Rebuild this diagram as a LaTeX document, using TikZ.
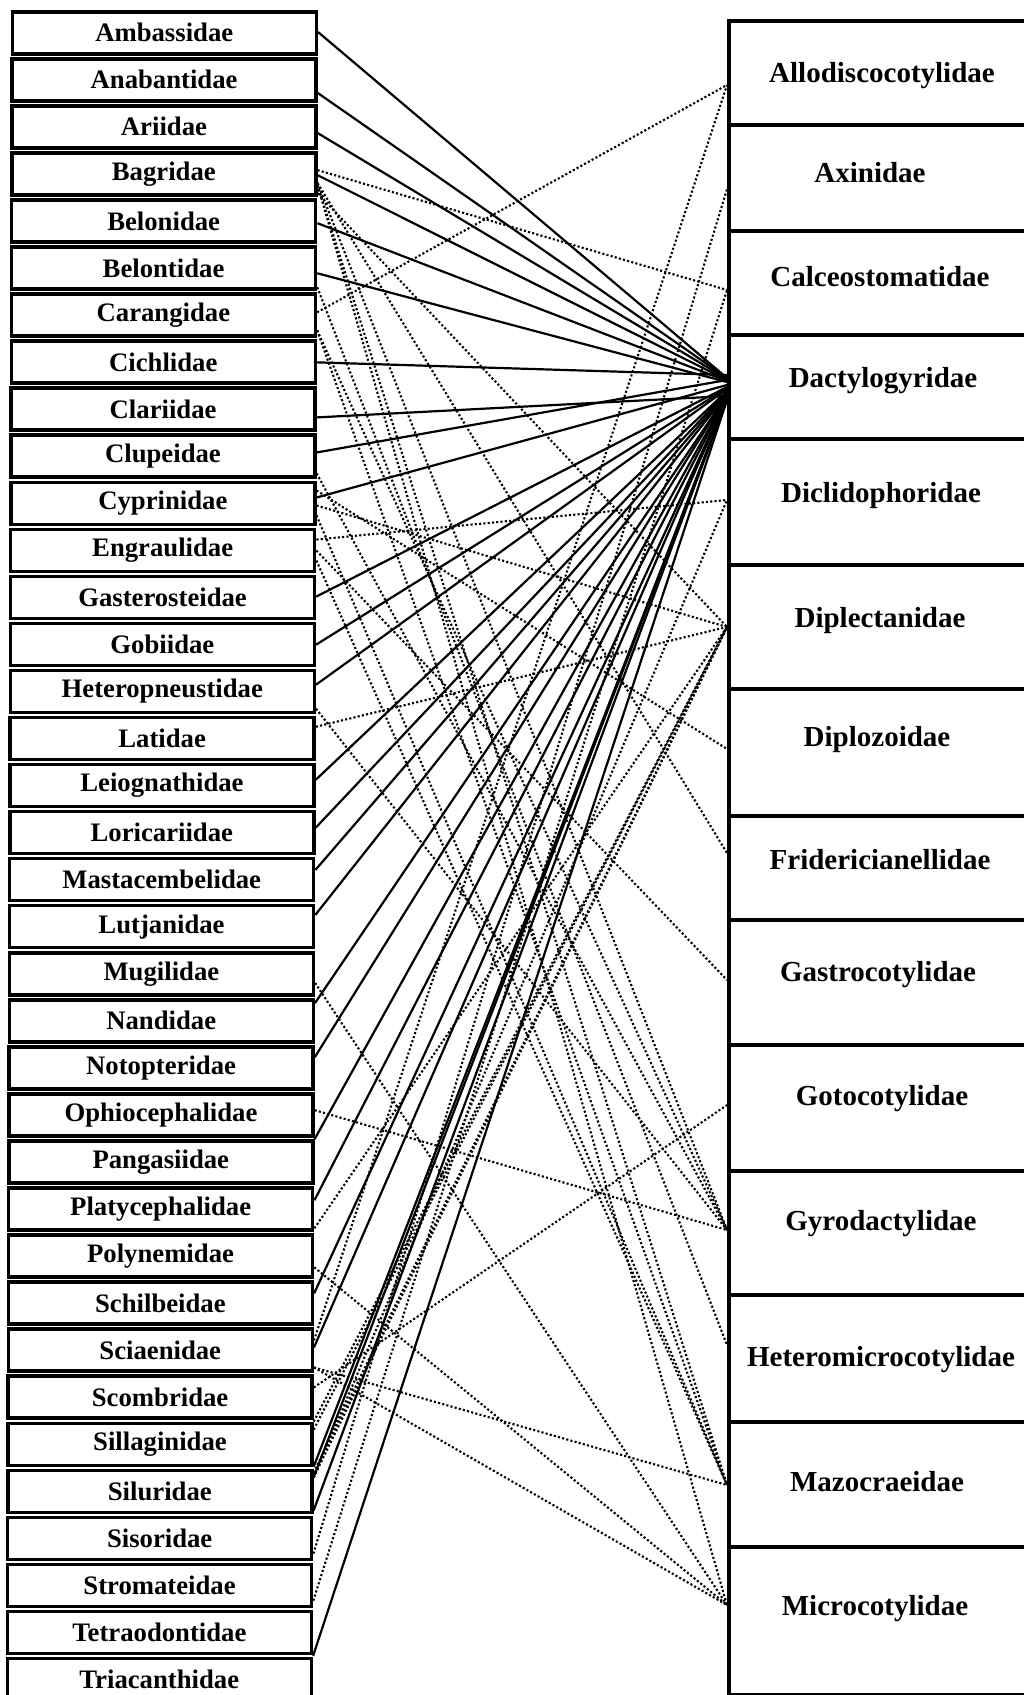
\documentclass[tikz,border=0pt]{standalone}
\usepackage{fontspec}
\setmainfont{Liberation Serif}
\usetikzlibrary{calc}
\pgfdeclarelayer{bg}
\pgfsetlayers{bg,main}
\begin{document}
\begin{tikzpicture}[x=1pt,y=-1pt,
  lbox/.style={draw, line width=3.5pt, fill=white, minimum width=304pt, minimum height=42pt, inner sep=0pt, anchor=north west, font=\bfseries\fontsize{26.7}{30}\selectfont},
  rbox/.style={draw, line width=3.5pt, fill=white, minimum width=320pt, inner sep=0pt, anchor=north west},
  rlabel/.style={font=\bfseries\fontsize{29}{32}\selectfont, inner sep=0pt},
  sline/.style={line width=2.2pt},
  dline/.style={line width=2.1pt, dash pattern=on 2.1pt off 2.2pt}]
\useasboundingbox (0,0) rectangle (1024,1695);
\clip (0,0) rectangle (1024,1695);
\foreach \n [count=\i from 0] in {Ambassidae,Anabantidae,Ariidae,Bagridae,Belonidae,Belontidae,Carangidae,Cichlidae,Clariidae,Clupeidae,Cyprinidae,Engraulidae,Gasterosteidae,Gobiidae,Heteropneustidae,Latidae,Leiognathidae,Loricariidae,Mastacembelidae,Lutjanidae,Mugilidae,Nandidae,Notopteridae,Ophiocephalidae,Pangasiidae,Platycephalidae,Polynemidae,Schilbeidae,Sciaenidae,Scombridae,Sillaginidae,Siluridae,Sisoridae,Stromateidae,Tetraodontidae,Triacanthidae} {
  \pgfmathsetmacro\yt{10+47.05*\i}
  \pgfmathsetmacro\xl{10.5-5*\i/35}
  \node[lbox] (L\i) at (\xl,\yt) {\n};
}
\foreach \t/\b [count=\k from 0] in {19/123,123/229,229/333,333/437,437/563,563/687,687/814,814/918,918/1043,1043/1169,1169/1293,1293/1420,1420/1545,1545/1693} {
  \pgfmathsetmacro\h{\b-\t}
  \node[rbox, minimum height=\h pt] (R\k) at (727,\t) {};
}
\foreach \n/\x/\y [count=\k from 0] in {Allodiscocotylidae/882/76,Axinidae/870/173,Calceostomatidae/880/277,Dactylogyridae/883/381,Diclidophoridae/881/496,Diplectanidae/880/621,Diplozoidae/877/740,Fridericianellidae/880/860,Gastrocotylidae/878/975,Gotocotylidae/882/1099,Gyrodactylidae/881/1224,Heteromicrocotylidae/881/1360,Mazocraeidae/877/1482,Microcotylidae/875/1609} {
  \node[rlabel] (T\k) at (\x,\y) {\n};
}
\begin{pgfonlayer}{bg}
\foreach \i/\d/\e in {0/22/45,1/36/45,2/29/46,3/24/47,4/25/48,5/28/49,7/23/42,8/31/63,9/19/47,10/17/52,12/22/54,13/23/55,14/16/56,16/17/58,17/18/59,18/13/60,19/11/61,21/5/62,22/12/62,24/0/63,25/14/64,27/13/65,28/20/65,30/45/66,31/9/66,31/42/66,34/46/67} {
  \draw[sline] ($(L\i.north east)+(0,\d)$) -- ($(R3.north west)+(0,\e)$);
}
\foreach \i/\d/\j/\e in {3/19/2/61,3/42/5/64,3/32/7/39,3/32/10/61,3/34/12/65,3/34/13/60,5/42/11/52,6/20/0/66,6/38/10/61,6/38/12/65,9/40/10/61,10/10/6/62,10/25/5/64,10/35/12/65,11/12/4/63,11/23/8/62,11/33/12/65,14/40/10/61,15/11/5/64,20/32/13/60,23/18/10/61,25/42/5/64,26/34/13/60,28/13/0/66,28/40/12/65,28/40/13/60,29/13/9/62,30/0/5/64,30/8/5/64,31/4/5/64,31/9/5/64,31/9/4/63,32/38/1/66,33/38/2/61} {
  \draw[dline] ($(L\i.north east)+(0,\d)$) -- ($(R\j.north west)+(0,\e)$);
}
\end{pgfonlayer}
\end{tikzpicture}
\end{document}
